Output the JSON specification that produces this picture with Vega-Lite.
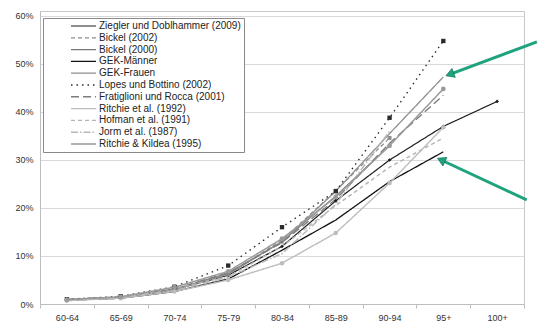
{
  "$schema": "https://vega.github.io/schema/vega-lite/v6.json",
  "width": 484,
  "height": 293,
  "autosize": {"type": "none"},
  "padding": {"left": 40, "top": 11, "right": 14, "bottom": 22},
  "background": "white",
  "datasets": {
    "prev": [
      {"series": "Ziegler und Doblhammer (2009)", "age": "60-64", "value": 0.8},
      {"series": "Ziegler und Doblhammer (2009)", "age": "65-69", "value": 1.4},
      {"series": "Ziegler und Doblhammer (2009)", "age": "70-74", "value": 3.0},
      {"series": "Ziegler und Doblhammer (2009)", "age": "75-79", "value": 6.0},
      {"series": "Ziegler und Doblhammer (2009)", "age": "80-84", "value": 12.0},
      {"series": "Ziegler und Doblhammer (2009)", "age": "85-89", "value": 21.5},
      {"series": "Ziegler und Doblhammer (2009)", "age": "90-94", "value": 30.0},
      {"series": "Ziegler und Doblhammer (2009)", "age": "95+", "value": 37.0},
      {"series": "Ziegler und Doblhammer (2009)", "age": "100+", "value": 42.2},
      {"series": "Bickel (2002)", "age": "60-64", "value": 0.9},
      {"series": "Bickel (2002)", "age": "65-69", "value": 1.3},
      {"series": "Bickel (2002)", "age": "70-74", "value": 2.9},
      {"series": "Bickel (2002)", "age": "75-79", "value": 6.2},
      {"series": "Bickel (2002)", "age": "80-84", "value": 13.3},
      {"series": "Bickel (2002)", "age": "85-89", "value": 23.6},
      {"series": "Bickel (2002)", "age": "90-94", "value": 34.6},
      {"series": "Bickel (2000)", "age": "60-64", "value": 1.0},
      {"series": "Bickel (2000)", "age": "65-69", "value": 1.4},
      {"series": "Bickel (2000)", "age": "70-74", "value": 3.1},
      {"series": "Bickel (2000)", "age": "75-79", "value": 6.4},
      {"series": "Bickel (2000)", "age": "80-84", "value": 13.0},
      {"series": "Bickel (2000)", "age": "85-89", "value": 22.5},
      {"series": "Bickel (2000)", "age": "90-94", "value": 33.0},
      {"series": "GEK-Männer", "age": "60-64", "value": 0.8},
      {"series": "GEK-Männer", "age": "65-69", "value": 1.2},
      {"series": "GEK-Männer", "age": "70-74", "value": 2.6},
      {"series": "GEK-Männer", "age": "75-79", "value": 5.2},
      {"series": "GEK-Männer", "age": "80-84", "value": 11.2},
      {"series": "GEK-Männer", "age": "85-89", "value": 17.5},
      {"series": "GEK-Männer", "age": "90-94", "value": 25.5},
      {"series": "GEK-Männer", "age": "95+", "value": 31.7},
      {"series": "GEK-Frauen", "age": "60-64", "value": 0.9},
      {"series": "GEK-Frauen", "age": "65-69", "value": 1.4},
      {"series": "GEK-Frauen", "age": "70-74", "value": 3.0},
      {"series": "GEK-Frauen", "age": "75-79", "value": 6.2},
      {"series": "GEK-Frauen", "age": "80-84", "value": 13.0},
      {"series": "GEK-Frauen", "age": "85-89", "value": 23.5},
      {"series": "GEK-Frauen", "age": "90-94", "value": 35.5},
      {"series": "GEK-Frauen", "age": "95+", "value": 47.3},
      {"series": "Lopes und Bottino (2002)", "age": "60-64", "value": 1.0},
      {"series": "Lopes und Bottino (2002)", "age": "65-69", "value": 1.6},
      {"series": "Lopes und Bottino (2002)", "age": "70-74", "value": 3.6},
      {"series": "Lopes und Bottino (2002)", "age": "75-79", "value": 8.0},
      {"series": "Lopes und Bottino (2002)", "age": "80-84", "value": 16.0},
      {"series": "Lopes und Bottino (2002)", "age": "85-89", "value": 23.5},
      {"series": "Lopes und Bottino (2002)", "age": "90-94", "value": 38.8},
      {"series": "Lopes und Bottino (2002)", "age": "95+", "value": 54.8},
      {"series": "Fratiglioni und Rocca (2001)", "age": "60-64", "value": 0.9},
      {"series": "Fratiglioni und Rocca (2001)", "age": "65-69", "value": 1.5},
      {"series": "Fratiglioni und Rocca (2001)", "age": "70-74", "value": 3.2},
      {"series": "Fratiglioni und Rocca (2001)", "age": "75-79", "value": 6.5},
      {"series": "Fratiglioni und Rocca (2001)", "age": "80-84", "value": 12.8},
      {"series": "Fratiglioni und Rocca (2001)", "age": "85-89", "value": 21.8},
      {"series": "Fratiglioni und Rocca (2001)", "age": "90-94", "value": 33.5},
      {"series": "Fratiglioni und Rocca (2001)", "age": "95+", "value": 43.5},
      {"series": "Ritchie et al. (1992)", "age": "60-64", "value": 0.7},
      {"series": "Ritchie et al. (1992)", "age": "65-69", "value": 1.2},
      {"series": "Ritchie et al. (1992)", "age": "70-74", "value": 2.6},
      {"series": "Ritchie et al. (1992)", "age": "75-79", "value": 5.0},
      {"series": "Ritchie et al. (1992)", "age": "80-84", "value": 8.5},
      {"series": "Ritchie et al. (1992)", "age": "85-89", "value": 14.8},
      {"series": "Ritchie et al. (1992)", "age": "90-94", "value": 25.2},
      {"series": "Ritchie et al. (1992)", "age": "95+", "value": 36.8},
      {"series": "Hofman et al. (1991)", "age": "60-64", "value": 1.0},
      {"series": "Hofman et al. (1991)", "age": "65-69", "value": 1.4},
      {"series": "Hofman et al. (1991)", "age": "70-74", "value": 3.3},
      {"series": "Hofman et al. (1991)", "age": "75-79", "value": 5.7},
      {"series": "Hofman et al. (1991)", "age": "80-84", "value": 12.0},
      {"series": "Hofman et al. (1991)", "age": "85-89", "value": 20.5},
      {"series": "Hofman et al. (1991)", "age": "90-94", "value": 28.5},
      {"series": "Hofman et al. (1991)", "age": "95+", "value": 34.6},
      {"series": "Jorm et al. (1987)", "age": "60-64", "value": 0.7},
      {"series": "Jorm et al. (1987)", "age": "65-69", "value": 1.4},
      {"series": "Jorm et al. (1987)", "age": "70-74", "value": 2.8},
      {"series": "Jorm et al. (1987)", "age": "75-79", "value": 5.6},
      {"series": "Jorm et al. (1987)", "age": "80-84", "value": 10.5},
      {"series": "Jorm et al. (1987)", "age": "85-89", "value": 20.8},
      {"series": "Jorm et al. (1987)", "age": "90-94", "value": 36.0},
      {"series": "Ritchie & Kildea (1995)", "age": "60-64", "value": 0.9},
      {"series": "Ritchie & Kildea (1995)", "age": "65-69", "value": 1.5},
      {"series": "Ritchie & Kildea (1995)", "age": "70-74", "value": 3.5},
      {"series": "Ritchie & Kildea (1995)", "age": "75-79", "value": 6.8},
      {"series": "Ritchie & Kildea (1995)", "age": "80-84", "value": 13.6},
      {"series": "Ritchie & Kildea (1995)", "age": "85-89", "value": 22.3},
      {"series": "Ritchie & Kildea (1995)", "age": "90-94", "value": 33.0},
      {"series": "Ritchie & Kildea (1995)", "age": "95+", "value": 44.8}
    ],
    "arrows": [
      {"arrow": "GEK-Frauen", "xTail": 8.74, "yTail": 54.6, "xHead": 7.12, "yHead": 47.85},
      {"arrow": "GEK-Männer", "xTail": 8.55, "yTail": 21.7, "xHead": 6.96, "yHead": 30.0}
    ]
  },
  "layer": [
    {
      "layer": [
        {
          "data": {"name": "prev"},
          "mark": {"type": "line", "clip": false},
          "encoding": {
            "x": {
              "field": "age", "type": "ordinal", "bandPosition": 0.5,
              "scale": {"type": "band", "paddingInner": 0, "paddingOuter": 0,
                "domain": ["60-64","65-69","70-74","75-79","80-84","85-89","90-94","95+","100+"]},
              "axis": {"title": null, "tickBand": "extent", "grid": false, "labelAngle": 0, "tickSize": 4, "labelPadding": 5}
            },
            "y": {
              "field": "value", "type": "quantitative",
              "scale": {"domain": [0, 61.04], "nice": false},
              "axis": {"title": null, "values": [0,10,20,30,40,50,60], "labelExpr": "datum.value + '%'", "tickSize": 0, "labelPadding": 7}
            },
            "color": {
              "field": "series", "type": "nominal", "title": null,
              "legend": {
                "labelExpr": "datum.label + '\u00a0\u00a0\u00a0\u00a0\u00a0\u00a0\u00a0\u00a0'",
                "labelLimit": 300,
                "encode": {"symbols": {"update": {
                  "stroke": {"scale": "color", "field": "value"},
                  "strokeWidth": {"scale": "strokeWidth", "field": "value"},
                  "strokeDash": {"scale": "strokeDash", "field": "value"},
                  "opacity": {"value": 1}
                }}}
              },
              "scale": {
                "domain": ["Ziegler und Doblhammer (2009)","Bickel (2002)","Bickel (2000)","GEK-Männer","GEK-Frauen","Lopes und Bottino (2002)","Fratiglioni und Rocca (2001)","Ritchie et al. (1992)","Hofman et al. (1991)","Jorm et al. (1987)","Ritchie & Kildea (1995)"],
                "range": ["#1e1e1e","#8c8c8c","#7a7a7a","#111111","#8f8f8f","#2a2a2a","#7d7d7d","#bdbdbd","#b5b5b5","#b8b8b8","#999999"]
              }
            },
            "strokeDash": {
              "field": "series", "type": "nominal", "legend": null,
              "scale": {
                "domain": ["Ziegler und Doblhammer (2009)","Bickel (2002)","Bickel (2000)","GEK-Männer","GEK-Frauen","Lopes und Bottino (2002)","Fratiglioni und Rocca (2001)","Ritchie et al. (1992)","Hofman et al. (1991)","Jorm et al. (1987)","Ritchie & Kildea (1995)"],
                "range": [[1,0],[4,3],[1,0],[1,0],[1,0],[1.5,4],[8,4],[1,0],[4,3],[7,2,1.5,2],[1,0]]
              }
            },
            "strokeWidth": {
              "field": "series", "type": "nominal", "legend": null,
              "scale": {
                "domain": ["Ziegler und Doblhammer (2009)","Bickel (2002)","Bickel (2000)","GEK-Männer","GEK-Frauen","Lopes und Bottino (2002)","Fratiglioni und Rocca (2001)","Ritchie et al. (1992)","Hofman et al. (1991)","Jorm et al. (1987)","Ritchie & Kildea (1995)"],
                "range": [1.2,1.5,1.1,2.4,1.5,2,1.6,1.3,1.1,1.1,2]
              }
            }
          }
        },
        {
          "data": {"name": "prev"},
          "transform": [{"filter": {"field": "series", "oneOf": ["Ziegler und Doblhammer (2009)","Bickel (2002)","Bickel (2000)","Lopes und Bottino (2002)","Ritchie et al. (1992)","Ritchie & Kildea (1995)"]}}],
          "mark": {"type": "point", "filled": true, "opacity": 1, "clip": false},
          "encoding": {
            "x": {"field": "age", "type": "ordinal", "bandPosition": 0.5},
            "y": {"field": "value", "type": "quantitative"},
            "fill": {
              "field": "series", "type": "nominal", "legend": null,
              "scale": {
                "domain": ["Ziegler und Doblhammer (2009)","Bickel (2002)","Bickel (2000)","Lopes und Bottino (2002)","Ritchie et al. (1992)","Ritchie & Kildea (1995)"],
                "range": ["#1e1e1e","#8c8c8c","#7a7a7a","#2a2a2a","#bdbdbd","#999999"]
              }
            },
            "shape": {
              "field": "series", "type": "nominal", "legend": null,
              "scale": {
                "domain": ["Ziegler und Doblhammer (2009)","Bickel (2002)","Bickel (2000)","Lopes und Bottino (2002)","Ritchie et al. (1992)","Ritchie & Kildea (1995)"],
                "range": ["diamond","square","triangle-up","square","circle","circle"]
              }
            },
            "size": {
              "field": "series", "type": "nominal", "legend": null,
              "scale": {
                "domain": ["Ziegler und Doblhammer (2009)","Bickel (2002)","Bickel (2000)","Lopes und Bottino (2002)","Ritchie et al. (1992)","Ritchie & Kildea (1995)"],
                "range": [14, 22, 14, 36, 20, 26]
              }
            }
          }
        }
      ]
    },
    {
      "layer": [
        {
          "data": {"name": "arrows"},
          "mark": {"type": "rule", "color": "#1fa37f", "strokeWidth": 3, "clip": false},
          "encoding": {
            "x": {"field": "xTail", "type": "quantitative", "scale": {"domain": [-0.5, 8.5], "nice": false, "zero": false}, "axis": null},
            "x2": {"field": "xHead"},
            "y": {"field": "yTail", "type": "quantitative"},
            "y2": {"field": "yHead"}
          }
        },
        {
          "data": {"name": "arrows"},
          "transform": [{"filter": {"field": "arrow", "equal": "GEK-Frauen"}}],
          "mark": {"type": "point", "shape": "triangle-up", "filled": true, "color": "#1fa37f", "stroke": "#0f6e55", "strokeWidth": 0.6, "opacity": 1, "size": 90, "angle": 249.7, "clip": false},
          "encoding": {
            "x": {"field": "xHead", "type": "quantitative"},
            "y": {"field": "yHead", "type": "quantitative"}
          }
        },
        {
          "data": {"name": "arrows"},
          "transform": [{"filter": {"field": "arrow", "equal": "GEK-Männer"}}],
          "mark": {"type": "point", "shape": "triangle-up", "filled": true, "color": "#1fa37f", "stroke": "#0f6e55", "strokeWidth": 0.6, "opacity": 1, "size": 90, "angle": 295, "clip": false},
          "encoding": {
            "x": {"field": "xHead", "type": "quantitative"},
            "y": {"field": "yHead", "type": "quantitative"}
          }
        }
      ]
    }
  ],
  "resolve": {"scale": {"x": "independent"}, "axis": {"x": "independent"}},
  "config": {
    "font": "Liberation Sans",
    "view": {"stroke": "#c8c8c8", "strokeWidth": 1},
    "axis": {
      "labelFont": "Liberation Sans", "labelFontSize": 9, "labelColor": "#333333",
      "domainColor": "#bdbdbd", "tickColor": "#bdbdbd", "gridColor": "#d9d9d9", "gridWidth": 1
    },
    "legend": {
      "orient": "none", "legendX": 3, "legendY": 7,
      "strokeColor": "#8a8a8a", "fillColor": "white", "padding": 3,
      "symbolType": "stroke", "symbolSize": 625, "symbolOffset": 24, "symbolOpacity": 1,
      "labelOffset": 2, "labelFontSize": 10, "labelFont": "Liberation Sans", "labelColor": "#222222",
      "rowPadding": 1.8, "clipHeight": 10
    }
  }
}
